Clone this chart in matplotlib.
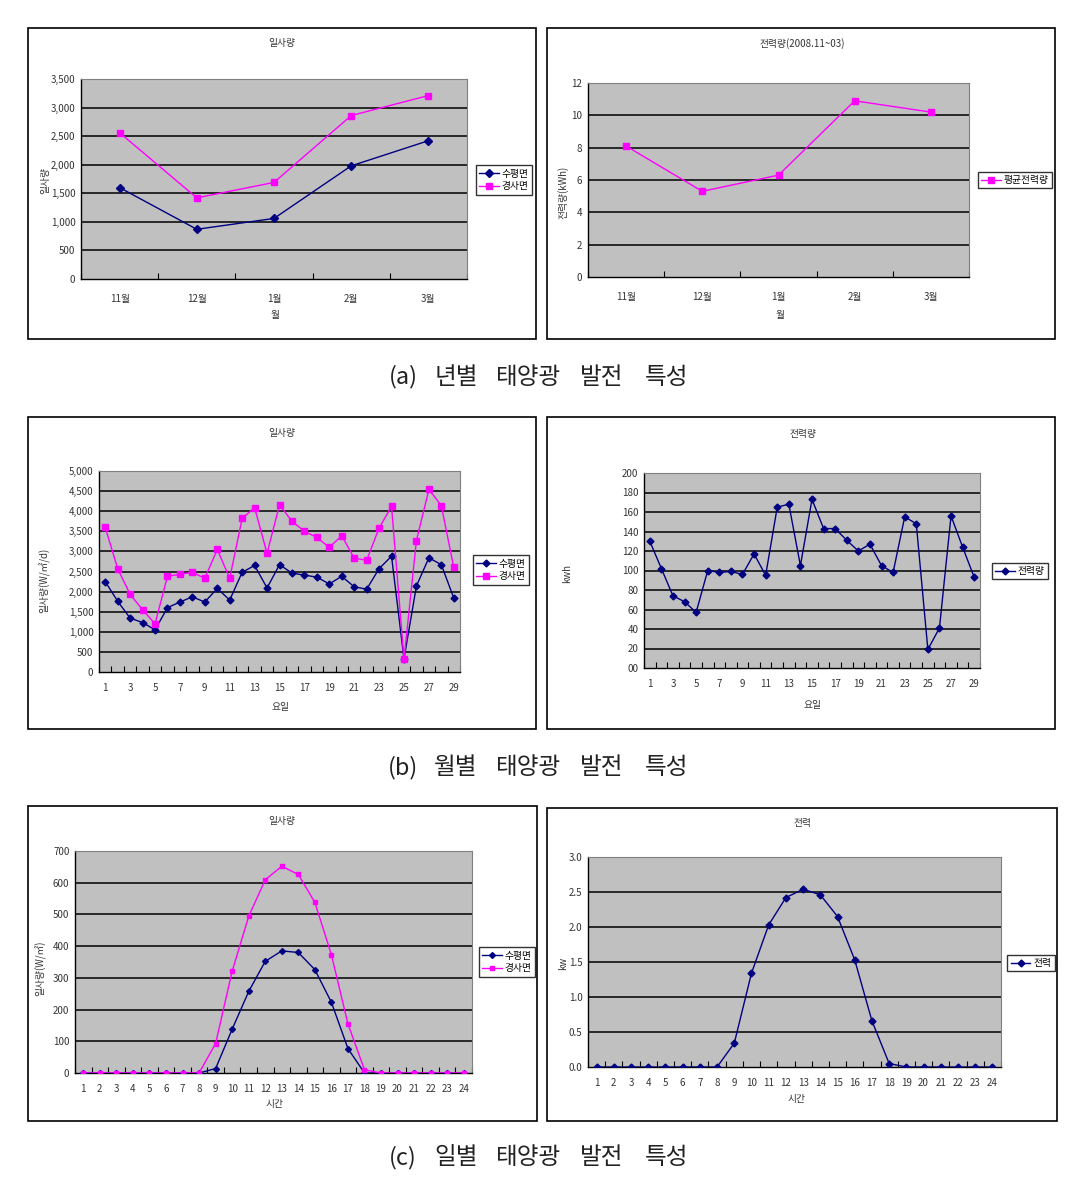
import matplotlib
matplotlib.use("Agg")
import matplotlib.pyplot as plt
from matplotlib.patches import Rectangle
from matplotlib.ticker import FuncFormatter
import numpy as np

plt.rcParams['font.family'] = ['Noto Sans CJK KR', 'DejaVu Sans']
plt.rcParams['axes.unicode_minus'] = False

W, H = 1078, 1182
NAVY = "#000080"
MAGENTA = "#FF00FF"
GRAY = "#C0C0C0"

# (a) 년별
months = ["11월", "12월", "1월", "2월", "3월"]
a_horiz = [1600, 870, 1060, 1980, 2420]
a_tilt = [2560, 1420, 1690, 2860, 3210]
a_power = [8.1, 5.3, 6.3, 10.9, 10.2]

# (b) 월별
days = list(range(1, 30))
b_horiz = [2250, 1760, 1340, 1230, 1050, 1600, 1740, 1870, 1740, 2080,
           1790, 2480, 2650, 2090, 2670, 2460, 2410, 2360, 2190, 2380,
           2120, 2060, 2570, 2880, 330, 2140, 2840, 2670, 1840]
b_tilt = [3600, 2570, 1930, 1550, 1200, 2380, 2430, 2480, 2330, 3050,
          2330, 3820, 4090, 2950, 4160, 3750, 3500, 3350, 3100, 3390,
          2830, 2780, 3580, 4120, 320, 3270, 4540, 4140, 2600]
b_power = [130, 102, 74, 68, 57, 100, 98, 99, 96, 117,
           95, 165, 168, 105, 173, 143, 143, 131, 120, 127,
           105, 98, 155, 148, 19, 41, 156, 124, 93]

# (c) 일별
hours = list(range(1, 25))
c_horiz = [0, 0, 0, 0, 0, 0, 0, 0, 14, 138, 257, 352, 385, 380, 326, 223,
           77, 0, 0, 0, 0, 0, 0, 0]
c_tilt = [0, 0, 0, 0, 0, 0, 0, 0, 93, 321, 494, 609, 652, 626, 538, 373,
          155, 10, 0, 0, 0, 0, 0, 0]
c_power = [0, 0, 0, 0, 0, 0, 0, 0, 0.34, 1.34, 2.03, 2.42, 2.54, 2.46, 2.15,
           1.53, 0.66, 0.05, 0, 0, 0, 0, 0, 0]

captions = [["(a)", "년별", "태양광", "발전", "특성"],
            ["(b)", "월별", "태양광", "발전", "특성"],
            ["(c)", "일별", "태양광", "발전", "특성"]]

fig = plt.figure(figsize=(W / 100, H / 100), dpi=100)
FS = 7


def px(x, y):
    return x / W, 1 - y / H


def add_frame(x0, y0, x1, y1):
    fig.patches.append(Rectangle(px(x0, y1), (x1 - x0) / W, (y1 - y0) / H,
                                 transform=fig.transFigure, fill=False,
                                 edgecolor="black", linewidth=1.2))


def make_ax(x0, y0, x1, y1, n, labels, ymax, ystep, fmt, pad=8):
    ax = fig.add_axes([x0 / W, 1 - y1 / H, (x1 - x0) / W, (y1 - y0) / H])
    ax.set_facecolor(GRAY)
    ax.set_xlim(0.5, n + 0.5)
    ax.set_ylim(0, ymax)
    yt = np.arange(0, ymax + ystep / 2, ystep)
    ax.set_yticks(yt)
    ax.yaxis.set_major_formatter(FuncFormatter(fmt))
    for y in yt[1:-1]:
        ax.axhline(y, color="black", linewidth=1.1, zorder=1)
    ax.set_xticks(np.arange(0.5, n + 1, 1.0))
    ax.set_xticklabels([])
    ax.set_xticks(np.arange(1, n + 1), labels, minor=True)
    ax.tick_params(axis="x", which="major", direction="in", length=4,
                   color="black", width=0.8)
    ax.tick_params(axis="x", which="minor", length=0, pad=pad,
                   labelsize=FS, labelcolor="#333333")
    ax.tick_params(axis="y", length=0, pad=4, labelsize=FS,
                   labelcolor="#333333")
    for s in ["top", "right"]:
        ax.spines[s].set_color("#808080")
        ax.spines[s].set_linewidth(0.8)
    for s in ["left", "bottom"]:
        ax.spines[s].set_color("black")
        ax.spines[s].set_linewidth(1.0)
    return ax


def text(x, y, s, rot=0, size=FS, color="#333333"):
    fx, fy = px(x, y)
    fig.text(fx, fy, s, ha="center", va="center", rotation=rot,
             fontsize=size, color=color)


def legend(ax, cx, cy):
    leg = ax.legend(loc="center", bbox_to_anchor=px(cx, cy),
                    bbox_transform=fig.transFigure,
                    fontsize=FS, frameon=True, fancybox=False,
                    borderpad=0.35, handlelength=2.0, handletextpad=0.3,
                    labelspacing=0.25, borderaxespad=0)
    leg.get_frame().set_edgecolor("black")
    leg.get_frame().set_linewidth(1.0)


def caption(words, y):
    xs = [403, 456, 529, 602, 667]
    for xw, w in zip(xs, words):
        text(xw, y, w, size=17, color="#222222")


comma = lambda v, p: f"{int(v):,}"
plain = lambda v, p: f"{int(v)}"
zero2 = lambda v, p: "00" if v == 0 else f"{int(v)}"
one_dec = lambda v, p: f"{v:.1f}"

# ---------- (a) ----------
add_frame(28, 28, 536, 339)
ax = make_ax(81, 79, 467, 279, len(months), months, 3500, 500, comma, pad=11)
x = np.arange(1, len(months) + 1)
ax.plot(x, a_horiz, marker="D", color=NAVY, markersize=4, linewidth=1.0, label="수평면", zorder=3)
ax.plot(x, a_tilt, marker="s", color=MAGENTA, markersize=5, linewidth=1.0, label="경사면", zorder=4)
legend(ax, 504, 180)
text(282, 43, "일사량")
text(275, 315, "월")
text(45, 180, "일사량", rot=90)

add_frame(547, 28, 1055, 339)
ax = make_ax(588, 83, 969, 277, len(months), months, 12, 2, plain, pad=11)
ax.plot(x, a_power, marker="s", color=MAGENTA, markersize=5, linewidth=1.0, label="평균전력량", zorder=4)
legend(ax, 1015, 180)
text(802, 44, "전력량(2008.11~03)")
text(780, 315, "월")
text(563, 192, "전력량(kWh)", rot=90)

caption(captions[0], 377)

# ---------- (b) ----------
dlabels = [str(d) if d % 2 == 1 else "" for d in days]
add_frame(28, 417, 536, 729)
ax = make_ax(99, 471, 460, 672, len(days), dlabels, 5000, 500, comma)
ax.plot(days, b_horiz, marker="D", color=NAVY, markersize=3.5, linewidth=1.0, label="수평면", zorder=3)
ax.plot(days, b_tilt, marker="s", color=MAGENTA, markersize=4.5, linewidth=1.0, label="경사면", zorder=4)
legend(ax, 501, 570)
text(282, 433, "일사량")
text(281, 707, "요일")
text(45, 580, "일사량(W/㎡/d)", rot=90)

add_frame(547, 417, 1055, 729)
ax = make_ax(644, 473, 980, 668, len(days), dlabels, 200, 20, zero2)
ax.plot(days, b_power, marker="D", color=NAVY, markersize=3.5, linewidth=1.0, label="전력량", zorder=3)
legend(ax, 1020, 571)
text(803, 434, "전력량")
text(813, 705, "요일")
text(567, 573, "kwh", rot=90)

caption(captions[1], 768)

# ---------- (c) ----------
hlabels = [str(h) for h in hours]
add_frame(28, 806, 537, 1121)
ax = make_ax(75, 851, 472, 1073, len(hours), hlabels, 700, 100, plain)
ax.plot(hours, c_horiz, marker="D", color=NAVY, markersize=3, linewidth=1.0, label="수평면", zorder=3)
ax.plot(hours, c_tilt, marker="s", color=MAGENTA, markersize=3.5, linewidth=1.0, label="경사면", zorder=4)
legend(ax, 507, 962)
text(282, 821, "일사량")
text(275, 1104, "시간")
text(41, 968, "일사량(W/㎡)", rot=90)

add_frame(547, 808, 1057, 1121)
ax = make_ax(588, 857, 1001, 1067, len(hours), hlabels, 3.0, 0.5, one_dec)
ax.plot(hours, c_power, marker="D", color=NAVY, markersize=3.5, linewidth=1.0, label="전력", zorder=3)
legend(ax, 1031, 963)
text(802, 823, "전력")
text(797, 1099, "시간")
text(563, 963, "kw", rot=90)

caption(captions[2], 1158)

fig.savefig("out.png", dpi=100)
